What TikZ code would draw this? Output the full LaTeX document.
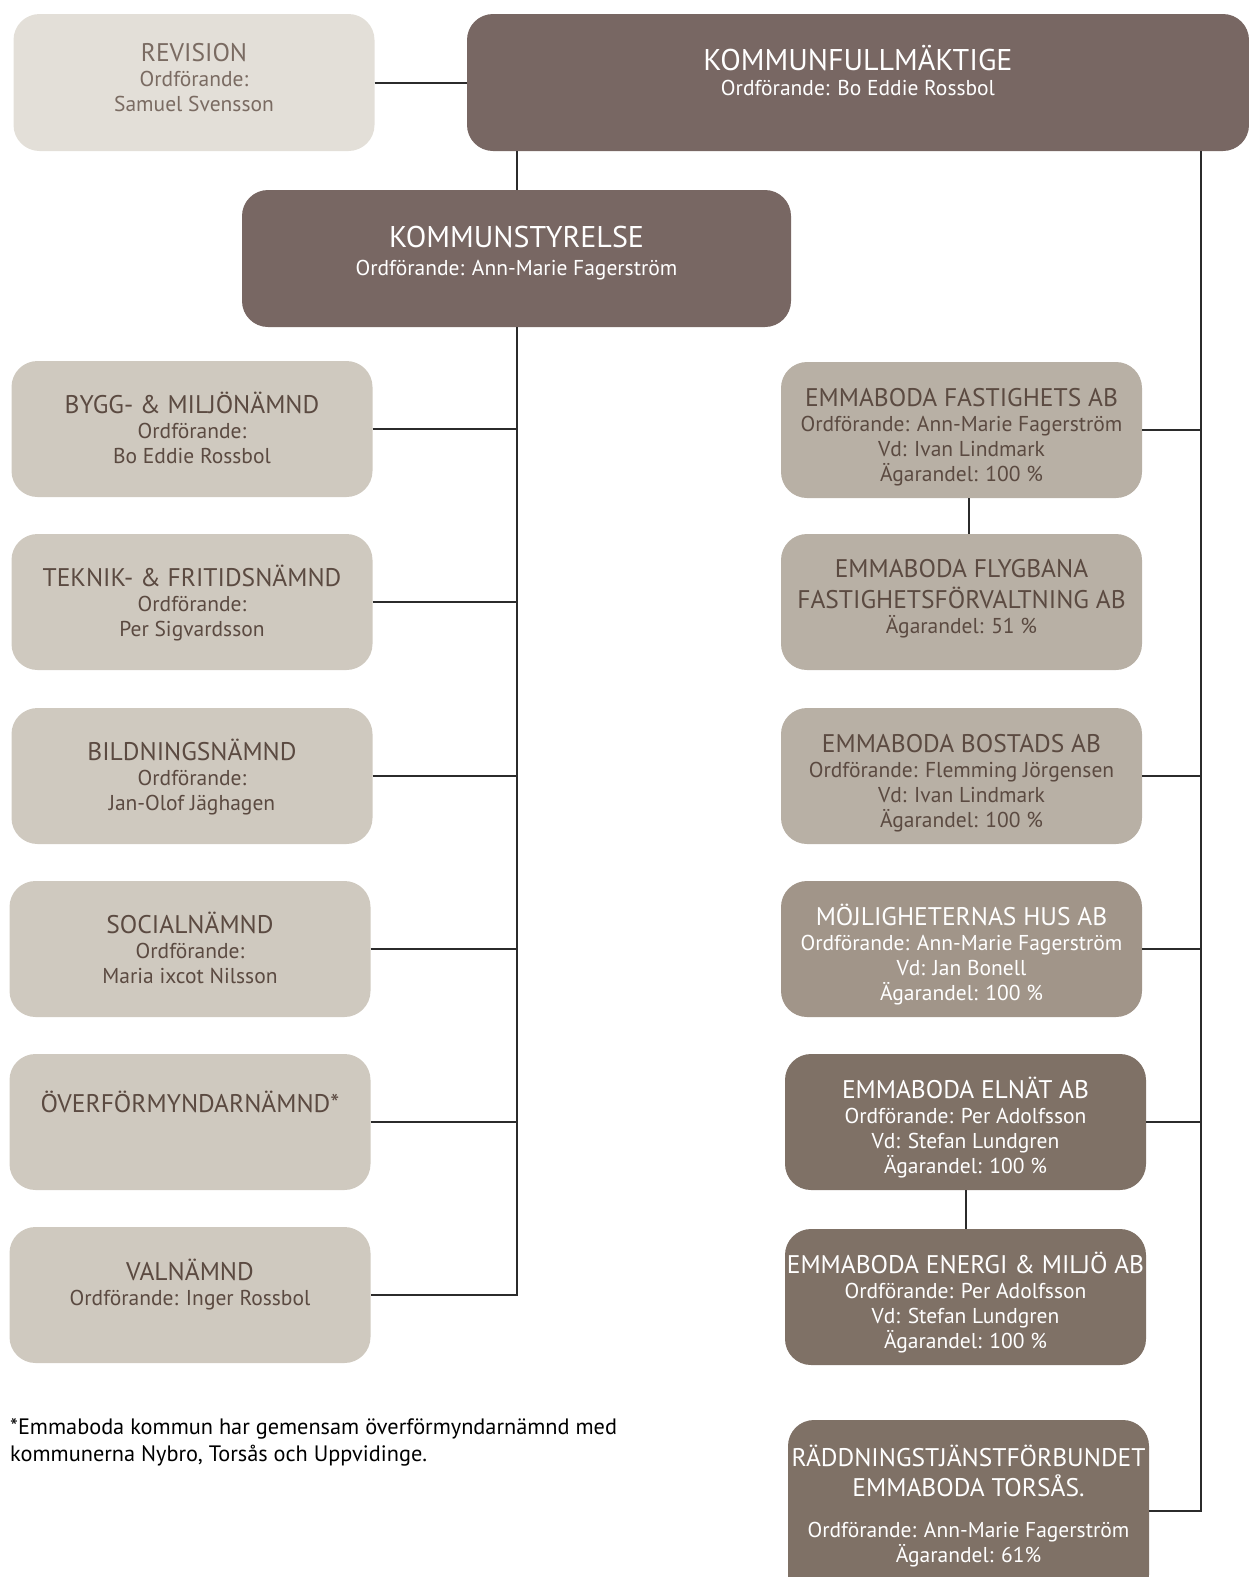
\documentclass[tikz,border=0pt]{standalone}
\usepackage{fontspec}
\setmainfont{PT Sans}
\usetikzlibrary{positioning}

\definecolor{revfill}{HTML}{E3DFD8}
\definecolor{revtext}{HTML}{7A6B62}
\definecolor{topfill}{HTML}{786763}
\definecolor{nmdfill}{HTML}{CFC9BF}
\definecolor{nmdtext}{HTML}{5B4A41}
\definecolor{abfill}{HTML}{B8B0A5}
\definecolor{midfill}{HTML}{A19589}
\definecolor{darkfill}{HTML}{7F7166}
\definecolor{linecol}{HTML}{2B2B2B}

\tikzset{
	orgbox/.style={rectangle, rounded corners=26pt, minimum width=361pt, minimum height=136pt,
		inner sep=0pt, align=center, text height=68pt, text depth=0pt,
		font=\fontsize{21.5}{25}\selectfont},
	revbox/.style={orgbox, fill=revfill, text=revtext},
	topbox/.style={orgbox, fill=topfill, text=white, minimum height=137pt},
	nmdbox/.style={orgbox, fill=nmdfill, text=nmdtext},
	abbox/.style={orgbox, fill=abfill, text=nmdtext, text height=102pt},
	midbox/.style={abbox, fill=midfill, text=white},
	darkbox/.style={abbox, fill=darkfill, text=white},
	wire/.style={draw=linecol, line width=2pt}
}
\newcommand\ttl[1]{{\fontsize{25.5}{25}\selectfont #1}}
\newcommand\bigttl[1]{{\fontsize{30}{25}\selectfont #1}}

\begin{document}
\begin{tikzpicture}[x=1pt, y=-1pt]

	\useasboundingbox (0,0) rectangle (1249,1577);

	% top row
	\node[revbox, minimum height=137pt, text height=57pt] (rev) at (194,82.5)
		{\ttl{REVISION}\\Ordförande:\\Samuel Svensson};
	\node[topbox, minimum width=782pt, text height=25pt] (kf) at (858,82.5)
		{\bigttl{KOMMUNFULLMÄKTIGE}\\Ordförande: Bo Eddie Rossbol};
	\node[topbox, minimum width=549pt, text height=33pt] (ks) at (516.5,258.5)
		{\bigttl{KOMMUNSTYRELSE}\\[3pt]Ordförande: Ann-Marie Fagerström};

	% nämnder
	\node[nmdbox] (bygg) at (192,429) {\ttl{BYGG- \& MILJÖNÄMND}\\Ordförande:\\Bo Eddie Rossbol};
	\node[nmdbox] (teknik) at (192,602) {\ttl{TEKNIK- \& FRITIDSNÄMND}\\Ordförande:\\Per Sigvardsson};
	\node[nmdbox] (bildn) at (192,776) {\ttl{BILDNINGSNÄMND}\\Ordförande:\\Jan-Olof Jäghagen};
	\node[nmdbox] (social) at (190,949) {\ttl{SOCIALNÄMND}\\Ordförande:\\Maria ixcot Nilsson};
	\node[nmdbox, text height=19pt, text depth=39pt] (overf) at (190,1122) {\ttl{ÖVERFÖRMYNDARNÄMND*}};
	\node[nmdbox, text height=20pt] (val) at (190,1295) {\ttl{VALNÄMND}\\Ordförande: Inger Rossbol};

	% bolag
	\node[abbox] (fast) at (961.5,430)
		{\ttl{EMMABODA FASTIGHETS AB}\\Ordförande: Ann-Marie Fagerström\\Vd: Ivan Lindmark\\Ägarandel: 100 \%};
	\node[abbox, text height=62pt] (flyg) at (961.5,602)
		{\ttl{EMMABODA FLYGBANA}\\[6pt]\ttl{FASTIGHETSFÖRVALTNING AB}\\Ägarandel: 51 \%};
	\node[abbox] (bost) at (961.5,776)
		{\ttl{EMMABODA BOSTADS AB}\\Ordförande: Flemming Jörgensen\\Vd: Ivan Lindmark\\Ägarandel: 100 \%};
	\node[midbox] (mojl) at (961.5,949)
		{\ttl{MÖJLIGHETERNAS HUS AB}\\Ordförande: Ann-Marie Fagerström\\Vd: Jan Bonell\\Ägarandel: 100 \%};
	\node[darkbox] (elnat) at (965.5,1122)
		{\ttl{EMMABODA ELNÄT AB}\\Ordförande: Per Adolfsson\\Vd: Stefan Lundgren\\Ägarandel: 100 \%};
	\node[darkbox] (energi) at (965.5,1297)
		{\ttl{EMMABODA ENERGI \& MILJÖ AB}\\Ordförande: Per Adolfsson\\Vd: Stefan Lundgren\\Ägarandel: 100 \%};
	\node[darkbox, minimum height=181pt, text height=103pt] (radd) at (968.5,1510.5)
		{\ttl{RÄDDNINGSTJÄNSTFÖRBUNDET}\\[5pt]\ttl{EMMABODA TORSÅS.}\\[16pt]Ordförande: Ann-Marie Fagerström\\Ägarandel: 61\%};

	% fotnot
	\node[anchor=base west, align=left, inner sep=0pt, text=black,
		font=\fontsize{22.3}{27}\selectfont] (fot) at (10,1461)
		{*Emmaboda kommun har gemensam överförmyndarnämnd med\\kommunerna Nybro, Torsås och Uppvidinge.};

	% linjer
	\coordinate (bus) at (1201,151);
	\draw[wire] (rev.east) -- (kf.west);
	\draw[wire] (ks.north) -- (ks.north |- kf.south);
	\draw[wire] (ks.south) -- (ks.south |- val.east) -- (val.east);
	\foreach \n in {bygg,teknik,bildn,social,overf}
		\draw[wire] (\n.east) -- (\n.east -| ks.south);
	\draw[wire] (bus) -- (bus |- radd.east) -- (radd.east);
	\foreach \n in {fast,bost,mojl,elnat}
		\draw[wire] (\n.east) -- (\n.east -| bus);
	\draw[wire] ([xshift=7pt]fast.south) -- ([xshift=7pt]flyg.north);
	\draw[wire] (elnat.south) -- (energi.north);

\end{tikzpicture}
\end{document}
